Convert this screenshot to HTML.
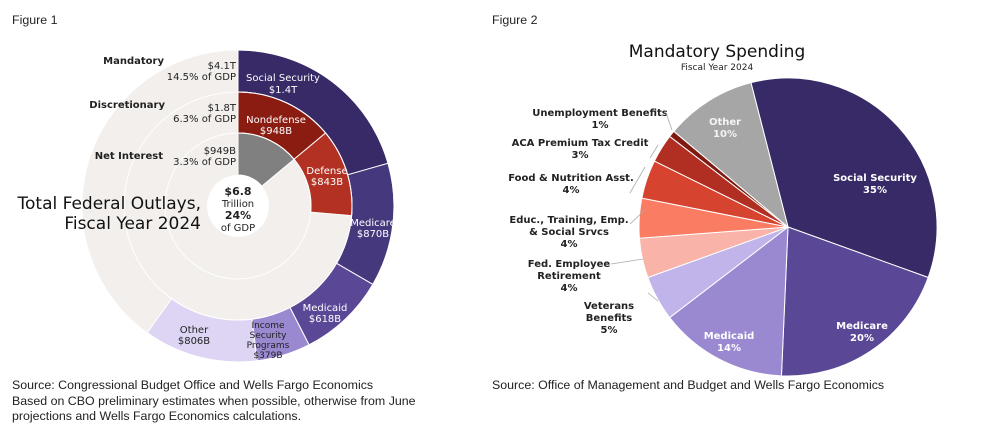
<!DOCTYPE html>
<html><head><meta charset="utf-8">
<style>
body{margin:0;background:#fff;width:990px;height:436px;overflow:hidden;font-family:"Liberation Sans",Arial,sans-serif}
svg text{font-family:"DejaVu Sans",Verdana,sans-serif}
.fig{font-family:"Liberation Sans",Arial,sans-serif;font-size:12.4px;fill:#222}
</style></head><body>
<svg id="c" width="990" height="436">
<text class="fig" x="12" y="24">Figure 1</text>
<text class="fig" x="492" y="24">Figure 2</text>
<g id="f1"></g>
<g id="f2"></g>
<text class="fig" x="12" y="389">Source: Congressional Budget Office and Wells Fargo Economics</text>
<text class="fig" x="12" y="405">Based on CBO preliminary estimates when possible, otherwise from June</text>
<text class="fig" x="12" y="420">projections and Wells Fargo Economics calculations.</text>
<text class="fig" x="492" y="389">Source: Office of Management and Budget and Wells Fargo Economics</text>
</svg>
<script>
const totalOutlays = 6.8;
const mandatoryNames = ["Social Security","Medicare","Medicaid","Income Security Programs","Other"];
const mandatoryValues = [1.4,0.87,0.618,0.379,0.806];
const discretionaryNames = ["Nondefense","Defense"];
const discretionaryValues = [0.948,0.843];
const interestNames = ["Net Interest"];
const interestValues = [0.949];
const pieNames = ["Social Security","Medicare","Medicaid","Veterans Benefits","Fed. Employee Retirement","Educ., Training, Emp. & Social Srvcs","Food & Nutrition Asst.","ACA Premium Tax Credit","Unemployment Benefits","Other"];
const pieValues = [34.5,20.2,13.9,4.9,4.3,4.3,4.2,3.1,0.7,9.9];
const pieStart = -14.4;

const NS="http://www.w3.org/2000/svg";
function el(t,a,p){const e=document.createElementNS(NS,t);for(const k in a)e.setAttribute(k,a[k]);p.appendChild(e);return e;}
function pt(cx,cy,r,deg){const a=deg*Math.PI/180;return [cx+r*Math.sin(a),cy-r*Math.cos(a)];}
function arcPath(cx,cy,r0,r1,a0,a1){
  const L=(a1-a0)>180?1:0;const p1=pt(cx,cy,r1,a0),p2=pt(cx,cy,r1,a1);
  if(r0<=0)return `M${cx},${cy}L${p1}A${r1},${r1} 0 ${L} 1 ${p2}Z`;
  const p3=pt(cx,cy,r0,a1),p4=pt(cx,cy,r0,a0);
  return `M${p1}A${r1},${r1} 0 ${L} 1 ${p2}L${p3}A${r0},${r0} 0 ${L} 0 ${p4}Z`;}
function txt(p,x,y,s,o){const t=el('text',Object.assign({x:x,y:y,'font-size':10,'text-anchor':'middle',fill:'#222'},o||{}),p);t.textContent=s;return t;}

// Figure 1
const f1=document.getElementById('f1');
const cx=238,cy=206;
const rings=[[114,156,mandatoryValues,mandatoryNames,["#372a66","#46387d","#5a4796","#9a88d0","#ddd5f3"]],
 [73,114,discretionaryValues,discretionaryNames,["#8a1c12","#b23123"]],
 [31,73,interestValues,interestNames,["#808080"]]];
el('circle',{cx:cx,cy:cy,r:156,fill:'#f2efec'},f1);
rings.forEach(([r0,r1,vals,names,cols])=>{
  let a=0;
  vals.forEach((v,i)=>{const s=v/totalOutlays*360;
    const p=el('path',{d:arcPath(cx,cy,r0,r1,a,a+s),fill:cols[i],stroke:'#fff','stroke-width':1},f1);
    
    
    a+=s;});
  el('circle',{cx:cx,cy:cy,r:r1,fill:'none',stroke:'#fff','stroke-width':1},f1);
});
el('circle',{cx:cx,cy:cy,r:31,fill:'#fff'},f1);
const W={fill:'#fff'};
[["Social Security",283,81],["$1.4T",283,93]].forEach(d=>txt(f1,d[1],d[2],d[0],W));
[["Nondefense",276,123],["$948B",276,134]].forEach(d=>txt(f1,d[1],d[2],d[0],W));
[["Defense",327,174],["$843B",327,185]].forEach(d=>txt(f1,d[1],d[2],d[0],W));
[["Medicare",373,226],["$870B",373,237]].forEach(d=>txt(f1,d[1],d[2],d[0],W));
[["Medicaid",325,311],["$618B",325,322]].forEach(d=>txt(f1,d[1],d[2],d[0],W));
[["Income",268,328],["Security",268,338],["Programs",268,348],["$379B",268,358]].forEach(d=>txt(f1,d[1],d[2],d[0],{'font-size':9}));
[["Other",194,333],["$806B",194,344]].forEach(d=>txt(f1,d[1],d[2],d[0]));
txt(f1,238,195,"$6.8",{'font-weight':'bold','font-size':11});
txt(f1,238,207,"Trillion");
txt(f1,238,219,"24%",{'font-weight':'bold','font-size':11});
txt(f1,238,231,"of GDP");
const R={'text-anchor':'end'};
txt(f1,164,64,"Mandatory",{'text-anchor':'end','font-weight':'bold'});
txt(f1,236,69,"$4.1T",R);txt(f1,236,80,"14.5% of GDP",R);
txt(f1,165,108,"Discretionary",{'text-anchor':'end','font-weight':'bold'});
txt(f1,236,111,"$1.8T",R);txt(f1,236,122,"6.3% of GDP",R);
txt(f1,163,159,"Net Interest",{'text-anchor':'end','font-weight':'bold'});
txt(f1,236,154,"$949B",R);txt(f1,236,165,"3.3% of GDP",R);
txt(f1,201,209,"Total Federal Outlays,",{'text-anchor':'end','font-size':17,fill:'#111'});
txt(f1,201,229,"Fiscal Year 2024",{'text-anchor':'end','font-size':17,fill:'#111'});

// Figure 2
const f2=document.getElementById('f2');
const px=788,py=227,pr=149;
const pcols=["#372a66","#5a4796","#9a88d0","#c0b4ea","#f9b3a8","#f97c63","#d6432f","#b02e22","#7f1a10","#a6a6a6"];
const ptot=pieValues.reduce((a,b)=>a+b,0);
let ang=pieStart;
pieValues.forEach((v,i)=>{const s=v/ptot*360;
  const p=el('path',{d:arcPath(px,py,0,pr,ang,ang+s),fill:pcols[i],stroke:'#fff','stroke-width':1},f2);
  
  
  ang+=s;});
txt(f2,717,57,"Mandatory Spending",{'font-size':17,fill:'#111'});
txt(f2,717,70,"Fiscal Year 2024",{'font-size':9});
const B={'font-weight':'bold'};const BW={'font-weight':'bold',fill:'#fff'};
[["Other",725,125],["10%",725,137]].forEach(d=>txt(f2,d[1],d[2],d[0],Object.assign({},BW,{fill:'#f4f4f4'})));
[["Social Security",875,181],["35%",875,193]].forEach(d=>txt(f2,d[1],d[2],d[0],BW));
[["Medicare",862,329],["20%",862,341]].forEach(d=>txt(f2,d[1],d[2],d[0],BW));
[["Medicaid",729,339],["14%",729,351]].forEach(d=>txt(f2,d[1],d[2],d[0],BW));
[["Unemployment Benefits",600,116],["1%",600,128]].forEach(d=>txt(f2,d[1],d[2],d[0],B));
[["ACA Premium Tax Credit",580,146],["3%",580,158]].forEach(d=>txt(f2,d[1],d[2],d[0],B));
[["Food & Nutrition Asst.",571,181],["4%",571,193]].forEach(d=>txt(f2,d[1],d[2],d[0],B));
[["Educ., Training, Emp.",569,223],["& Social Srvcs",569,235],["4%",569,247]].forEach(d=>txt(f2,d[1],d[2],d[0],B));
[["Fed. Employee",569,267],["Retirement",569,279],["4%",569,291]].forEach(d=>txt(f2,d[1],d[2],d[0],B));
[["Veterans",609,309],["Benefits",609,321],["5%",609,333]].forEach(d=>txt(f2,d[1],d[2],d[0],B));
[[666,113,672,130],[650,158,658,145],[630,193,645,167],[630,224,645,210],[611,264,643,259],[658,301,648,293]].forEach(l=>el('line',{x1:l[0],y1:l[1],x2:l[2],y2:l[3],stroke:'#aaa','stroke-width':0.8},f2));
</script>
</body></html>
